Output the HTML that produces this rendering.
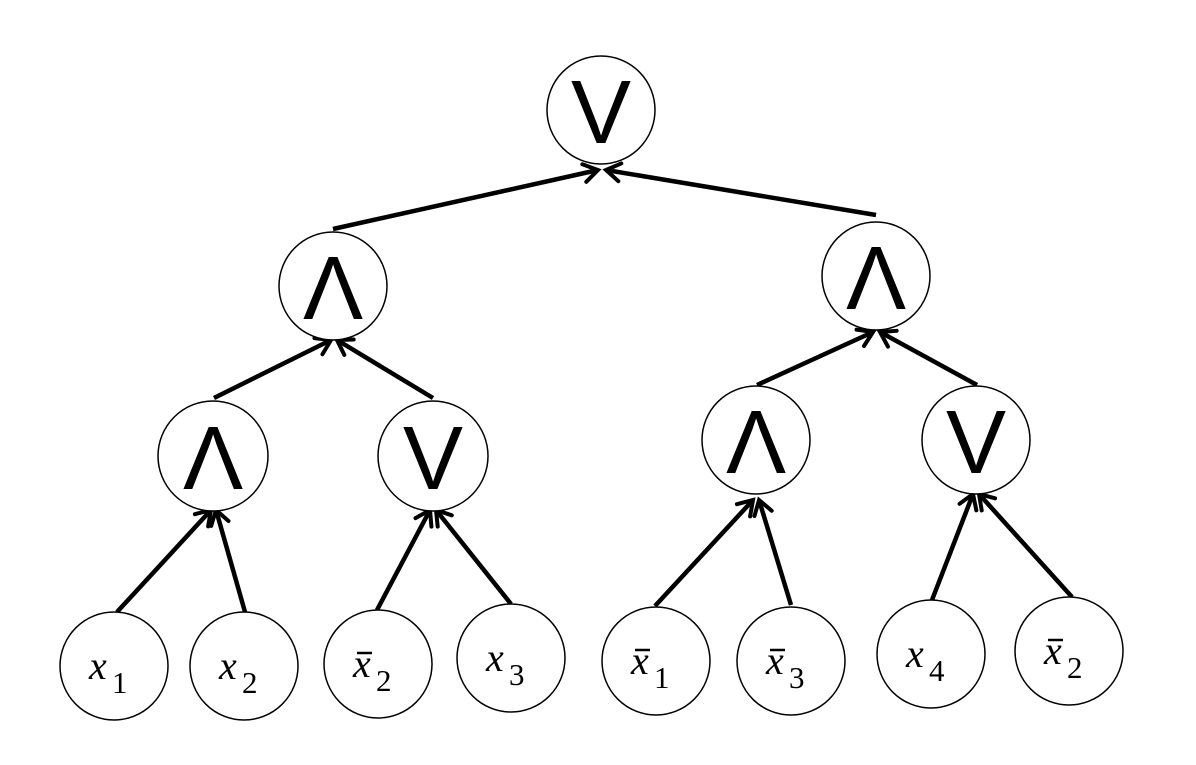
<!DOCTYPE html>
<html><head><meta charset="utf-8"><style>
html,body{margin:0;padding:0;background:#fff;}
svg{display:block}
.g{font-family:"Liberation Sans",sans-serif;font-size:90px;fill:#000;text-anchor:middle}
.v{font-family:"Liberation Serif",serif;font-style:italic;font-size:40px;fill:#000}
.s{font-family:"Liberation Serif",serif;font-style:normal;font-size:31px;fill:#000}
</style></head><body>
<svg width="1196" height="765" viewBox="0 0 1196 765" xmlns="http://www.w3.org/2000/svg">
<defs>
<marker id="a" markerWidth="10" markerHeight="10" refX="8" refY="5" orient="auto" markerUnits="userSpaceOnUse" viewBox="0 0 10 10" overflow="visible">
<path d="M-6,-4 L8,5 L-6,14" fill="none" stroke="#000" stroke-width="4" stroke-linecap="round"/>
</marker>
</defs>
<g stroke="#000" stroke-width="4.5" fill="none" marker-end="url(#a)">
<line x1="333" y1="229" x2="598" y2="170"/>
<line x1="876" y1="215" x2="606" y2="170"/>
<line x1="214" y1="398" x2="331" y2="340"/>
<line x1="433" y1="398" x2="337" y2="340"/>
<line x1="757" y1="385" x2="873" y2="332"/>
<line x1="977" y1="385" x2="880" y2="332"/>
<line x1="117" y1="612" x2="211" y2="510"/>
<line x1="245" y1="612" x2="216" y2="510"/>
<line x1="377" y1="610" x2="430" y2="510"/>
<line x1="511" y1="604" x2="436" y2="510"/>
<line x1="655" y1="606" x2="753" y2="500"/>
<line x1="791" y1="605" x2="759" y2="500"/>
<line x1="932" y1="600" x2="973" y2="494"/>
<line x1="1072" y1="597" x2="979" y2="494"/>
</g>
<g stroke="#000" stroke-width="1.5" fill="#fff">
<circle cx="601" cy="110" r="54"/>
<circle cx="333" cy="286" r="54"/>
<circle cx="876" cy="276" r="54"/>
<circle cx="213" cy="456" r="55"/>
<circle cx="433" cy="456" r="55"/>
<circle cx="756" cy="440" r="54"/>
<circle cx="976" cy="440" r="54"/>
<circle cx="114" cy="666" r="54"/>
<circle cx="244" cy="666" r="54"/>
<circle cx="378" cy="664" r="54"/>
<circle cx="511" cy="658" r="54"/>
<circle cx="656" cy="661" r="54"/>
<circle cx="791" cy="661" r="54"/>
<circle cx="931" cy="654" r="54"/>
<circle cx="1069" cy="651" r="54"/>
</g>
<g class="g">
<text x="601" y="143">V</text>
<text x="333" y="319">Λ</text>
<text x="876" y="309">Λ</text>
<text x="213" y="489">Λ</text>
<text x="433" y="489">V</text>
<text x="756" y="473">Λ</text>
<text x="976" y="473">V</text>
</g>
<g class="v">
<text x="89" y="679">x</text>
<text x="219" y="679">x</text>
<text x="353" y="677">x</text>
<text x="486" y="671">x</text>
<text x="631" y="674">x</text>
<text x="766" y="674">x</text>
<text x="906" y="667">x</text>
<text x="1044" y="664">x</text>
</g>
<g class="s">
<text x="112" y="693">1</text>
<text x="242" y="693">2</text>
<text x="376" y="691">2</text>
<text x="509" y="685">3</text>
<text x="654" y="688">1</text>
<text x="789" y="688">3</text>
<text x="929" y="681">4</text>
<text x="1067" y="678">2</text>
</g>
<g stroke="#000" stroke-width="2.5">
<line x1="357" y1="653" x2="372" y2="653"/>
<line x1="635" y1="650" x2="650" y2="650"/>
<line x1="770" y1="650" x2="785" y2="650"/>
<line x1="1048" y1="640" x2="1063" y2="640"/>
</g>
</svg>
</body></html>
